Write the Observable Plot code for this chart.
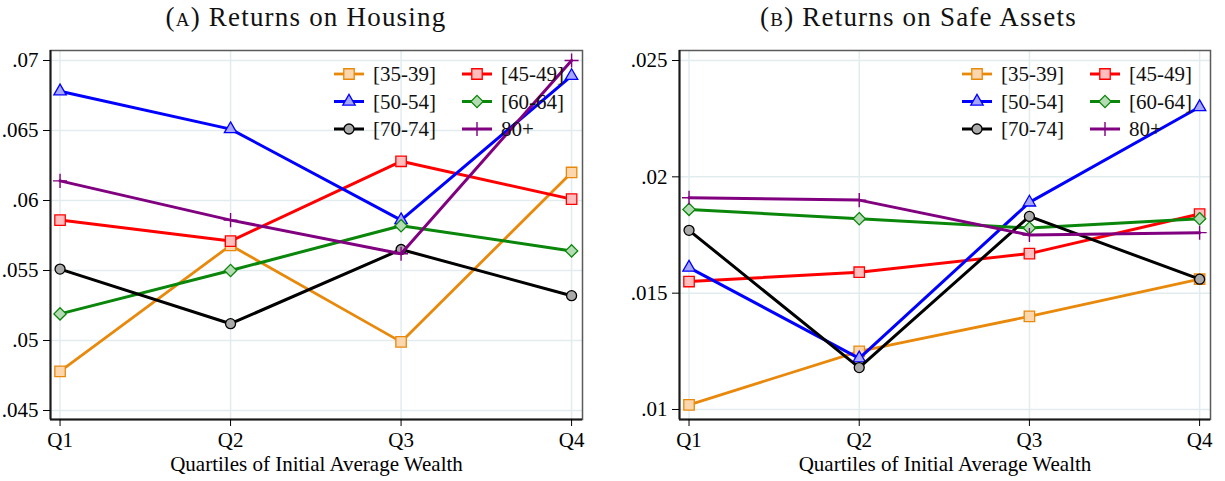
<!DOCTYPE html>
<html>
<head>
<meta charset="utf-8">
<script src="https://cdn.jsdelivr.net/npm/d3@7"></script>
<script src="https://cdn.jsdelivr.net/npm/@observablehq/plot@0.6"></script>
<style>
  html, body { margin: 0; padding: 0; background: #fff; }
  #wrap { display: flex; width: 1225px; height: 481px; overflow: hidden; }
  .panel { position: relative; }
  .title { height: 38px; text-align: center; font-family: "Liberation Serif", serif; font-size: 27px; letter-spacing: 1.2px; line-height: 34px; color: #111; }
  .sc { font-variant: small-caps; }
</style>
</head>
<body>
<div id="wrap">
  <div class="panel" id="left" style="width:612px">
    <div class="title">(<span class="sc">a</span>) Returns on Housing</div>
  </div>
  <div class="panel" id="right" style="width:613px">
    <div class="title">(<span class="sc">b</span>) Returns on Safe Assets</div>
  </div>
</div>
<script>
// ---------- data ----------
const quartiles = ["Q1", "Q2", "Q3", "Q4"];
const groups = ["[35-39]", "[45-49]", "[50-54]", "[60-64]", "[70-74]", "80+"];

// Panel A: returns on housing
const housing_35_39 = [0.0478, 0.0568, 0.0499, 0.0620];
const housing_45_49 = [0.0586, 0.0571, 0.0628, 0.0601];
const housing_50_54 = [0.0678, 0.0651, 0.0586, 0.0689];
const housing_60_64 = [0.0519, 0.0550, 0.0582, 0.0564];
const housing_70_74 = [0.0551, 0.0512, 0.0565, 0.0532];
const housing_80p   = [0.0614, 0.0586, 0.0562, 0.0700];

// Panel B: returns on safe assets
const safe_35_39 = [0.0102, 0.0125, 0.0140, 0.0156];
const safe_45_49 = [0.0155, 0.0159, 0.0167, 0.0184];
const safe_50_54 = [0.0161, 0.0122, 0.0189, 0.0230];
const safe_60_64 = [0.0186, 0.0182, 0.0178, 0.0182];
const safe_70_74 = [0.0177, 0.0118, 0.0183, 0.0156];
const safe_80p   = [0.0191, 0.0190, 0.0175, 0.0176];

const housingTicks = [0.045, 0.05, 0.055, 0.06, 0.065, 0.07];
const housingTickLabels = [".045", ".05", ".055", ".06", ".065", ".07"];
const safeTicks = [0.01, 0.015, 0.02, 0.025];
const safeTickLabels = [".01", ".015", ".02", ".025"];
const xLabel = "Quartiles of Initial Average Wealth";

// ---------- styles ----------
const diamond = {
  draw(context, size) {
    const h = Math.sqrt(size / 2);
    context.moveTo(0, -h); context.lineTo(h, 0); context.lineTo(0, h); context.lineTo(-h, 0); context.closePath();
  }
};
const styles = [
  {stroke: "#e8890c", fill: "#fcd6ad", symbol: "square",   r: 5.9, lw: 2.8, sw: 1.3},
  {stroke: "#ff0000", fill: "#ffbdbd", symbol: "square",   r: 5.9, lw: 3,   sw: 1.3},
  {stroke: "#0000ff", fill: "#a6a6ff", symbol: "triangle", r: 4.6, lw: 3,   sw: 1.3},
  {stroke: "#0a860a", fill: "#b5dbb5", symbol: diamond,    r: 4.9, lw: 3,   sw: 1.3},
  {stroke: "#000000", fill: "#a9a9a9", symbol: "circle",   r: 5.0, lw: 3,   sw: 1.3},
  {stroke: "#800080", fill: "none",    symbol: "plus",     r: 4.6, lw: 3,   sw: 1.4}
];

function rows(values) {
  return values.map((v, i) => ({q: i + 1, v}));
}

function makePanel(el, series, yDomain, yTicks, yLabels, width, mL, mR) {
  const height = 443, mT = 12, mB = 62;
  const xDomain = [0.944, 4.064];
  const grid = "#e2ecee";
  const marks = [
    Plot.gridY(yTicks, {stroke: grid, strokeOpacity: 1, strokeWidth: 1.5}),
    Plot.gridX([1, 2, 3, 4], {stroke: grid, strokeOpacity: 1, strokeWidth: 1.5}),
    Plot.frame({stroke: "#5a5a5a", strokeWidth: 1.5}),
    Plot.ruleY([yDomain[0]], {stroke: "#1a1a1a", strokeWidth: 2}),
    Plot.ruleX([xDomain[0]], {stroke: "#1a1a1a", strokeWidth: 2}),
    Plot.axisY(yTicks, {tickFormat: d => yLabels[yTicks.indexOf(d)], tickSize: 7, tickPadding: 5, label: null, fontSize: 21}),
    Plot.axisX([1, 2, 3, 4], {tickFormat: d => quartiles[d - 1], tickSize: 7, tickPadding: 6, fontSize: 21,
      label: xLabel, labelAnchor: "center", labelOffset: 51, labelArrow: "none"})
  ];
  series.forEach((vals, k) => {
    const s = styles[k];
    const data = rows(vals);
    marks.push(Plot.line(data, {x: "q", y: "v", stroke: s.stroke, strokeWidth: s.lw}));
    marks.push(Plot.dot(data, {x: "q", y: "v", symbol: s.symbol, r: s.r, fill: s.fill, stroke: s.stroke, strokeWidth: s.sw}));
  });
  const svg = Plot.plot({
    width, height,
    marginTop: mT, marginBottom: mB, marginLeft: mL, marginRight: mR,
    style: {fontFamily: "Liberation Serif, serif", fontSize: "21px", background: "#fff", color: "#000", overflow: "visible"},
    x: {type: "linear", domain: xDomain},
    y: {type: "linear", domain: yDomain},
    marks
  });
  // legend (two columns, three rows) anchored to top-right of frame
  const frameRight = width - mR, frameTop = mT;
  const g = d3.select(svg).append("g")
    .attr("font-family", "Liberation Serif, serif").attr("font-size", 21).attr("text-anchor", "start");
  groups.forEach((name, k) => {
    const s = styles[k];
    const col = k % 2, row = Math.floor(k / 2);
    const x0 = frameRight - (col === 0 ? 248 : 120);
    const y0 = frameTop + 24 + row * 27.5;
    g.append("line").attr("x1", x0).attr("x2", x0 + 30).attr("y1", y0).attr("y2", y0)
      .attr("stroke", s.stroke).attr("stroke-width", s.lw);
    const symType = typeof s.symbol === "string"
      ? {square: d3.symbolSquare, triangle: d3.symbolTriangle, circle: d3.symbolCircle, plus: d3.symbolPlus}[s.symbol]
      : s.symbol;
    g.append("path").attr("transform", `translate(${x0 + 15},${y0})`)
      .attr("d", d3.symbol(symType, s.r * s.r * Math.PI)())
      .attr("fill", s.fill).attr("stroke", s.stroke).attr("stroke-width", s.sw);
    g.append("text").attr("x", x0 + 39).attr("y", y0).attr("dy", "0.35em")
      .attr("text-anchor", "start").attr("fill", "#111").text(name);
  });
  el.appendChild(svg);
}

makePanel(document.getElementById("left"),
  [housing_35_39, housing_45_49, housing_50_54, housing_60_64, housing_70_74, housing_80p],
  [0.044357, 0.070714], housingTicks, housingTickLabels, 612, 50, 30);

makePanel(document.getElementById("right"),
  [safe_35_39, safe_45_49, safe_50_54, safe_60_64, safe_70_74, safe_80p],
  [0.00957, 0.02543], safeTicks, safeTickLabels, 613, 67, 15);
</script>
</body>
</html>
